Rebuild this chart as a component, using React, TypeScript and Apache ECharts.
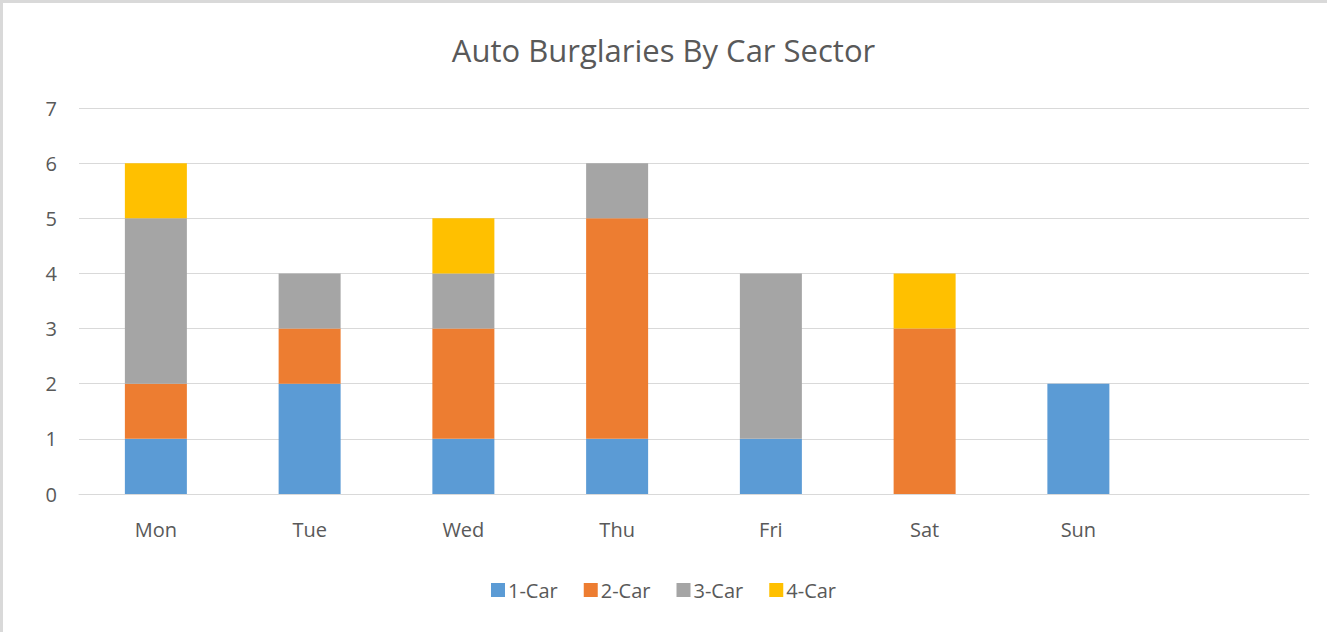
import React, { useEffect, useRef } from "react";
import * as echarts from "echarts";

const categories = ["Mon", "Tue", "Wed", "Thu", "Fri", "Sat", "Sun", ""];
const car1 = [1, 2, 1, 1, 1, 0, 2, null];
const car2 = [1, 1, 2, 4, 0, 3, 0, null];
const car3 = [3, 1, 1, 1, 3, 0, 0, null];
const car4 = [1, 0, 1, 0, 0, 1, 0, null];
const seriesNames = ["1-Car", "2-Car", "3-Car", "4-Car"];
const seriesColors = ["#5b9bd5", "#ed7d31", "#a5a5a5", "#ffc000"];
const yTicks = [0, 1, 2, 3, 4, 5, 6, 7];

export default function App() {
  const ref = useRef<HTMLDivElement>(null);
  useEffect(() => {
    document.body.style.margin = "0";
    const chart = echarts.init(ref.current!, undefined, { renderer: "svg" });
    const font = "'Open Sans', 'Noto Sans', sans-serif";
    const data = [car1, car2, car3, car4];
    chart.setOption({
      animation: false,
      backgroundColor: "#ffffff",
      textStyle: { fontFamily: font },
      title: {
        text: "Auto Burglaries By Car Sector",
        left: "center",
        top: 29,
        textStyle: { fontFamily: font, fontSize: 31, fontWeight: "normal", color: "#595959" },
      },
      legend: {
        bottom: 27,
        left: "center",
        itemWidth: 14,
        itemHeight: 14,
        itemGap: 26,
        icon: "rect",
        textStyle: { fontFamily: font, fontSize: 20, color: "#595959", padding: [0, 0, 0, -2] },
        data: seriesNames,
      },
      grid: { left: 79, right: 18, top: 108, bottom: 138, containLabel: false },
      xAxis: {
        type: "category",
        data: categories,
        axisLine: { show: true, lineStyle: { color: "#d9d9d9", width: 1 } },
        axisTick: { show: false },
        axisLabel: { color: "#595959", fontSize: 20, fontFamily: font, margin: 25 },
      },
      yAxis: {
        type: "value",
        min: yTicks[0],
        max: yTicks[yTicks.length - 1],
        interval: 1,
        axisLine: { show: false },
        axisTick: { show: false },
        splitLine: { lineStyle: { color: "#d9d9d9", width: 1 } },
        axisLabel: { color: "#595959", fontSize: 20, fontFamily: font, margin: 22 },
      },
      series: seriesNames.map((name, i) => ({
        name,
        type: "bar",
        stack: "total",
        data: data[i],
        barWidth: 62,
        itemStyle: { color: seriesColors[i] },
      })),
      graphic: [
        { type: "rect", left: 0, top: 0, shape: { width: 3, height: 632 }, style: { fill: "#d9d9d9" } },
        { type: "rect", left: 0, top: 0, shape: { width: 1327, height: 3 }, style: { fill: "#d9d9d9" } },
      ],
    });
    return () => chart.dispose();
  }, []);
  return <div ref={ref} style={{ width: 1327, height: 632 }} />;
}
